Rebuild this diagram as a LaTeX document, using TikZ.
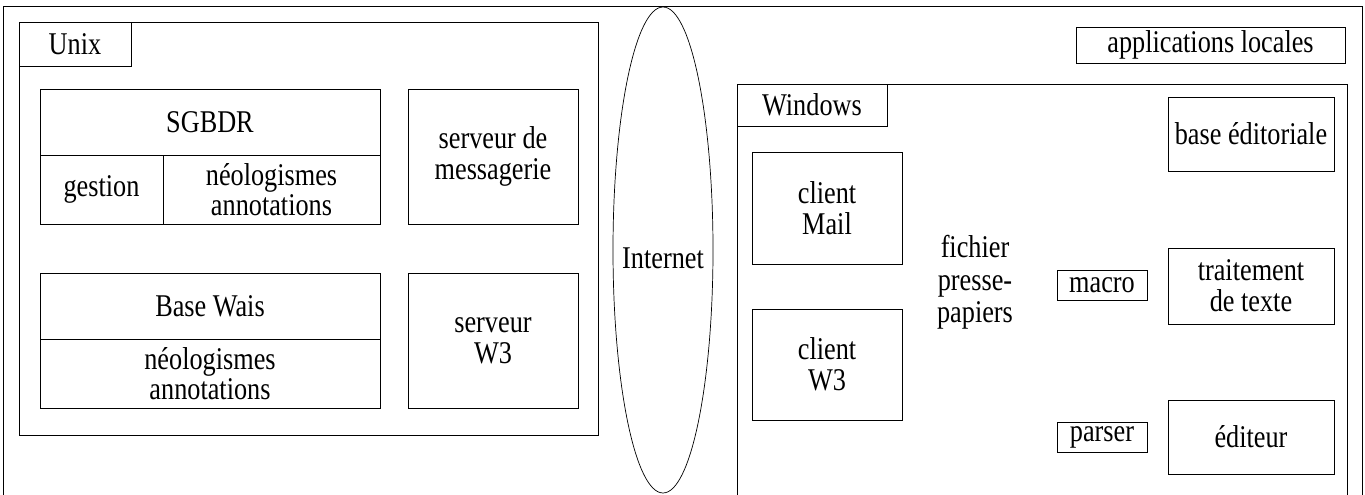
\documentclass[tikz,border=0pt]{standalone}
\usepackage{fontspec}
\setmainfont{Liberation Serif}[FakeStretch=0.83]
\usepackage{tikz}
\usetikzlibrary{shapes,positioning}

\begin{document}
\begin{tikzpicture}
			\tikzstyle{Box}		= [draw, rectangle, inner sep=0pt, align=center, font=\fontsize{18}{17.5}\selectfont]
			\tikzstyle{Tight}	= [font=\fontsize{18}{14.8}\selectfont]
			\tikzstyle{Label}	= [Box, fill=white]
			\tikzstyle{Net}		= [draw, ellipse, inner sep=0pt]
			\tikzstyle{Plain}	= [align=center, font=\fontsize{18}{18.5}\selectfont]

			\useasboundingbox (0,0) rectangle (27.3,9.9);

			\node (frame) at (13.65,4.39) [Box][minimum width=27.18cm, minimum height=10.78cm] {};

			\node (unix) at (6.17,5.33) [Box][minimum width=11.58cm, minimum height=8.26cm] {};
			\node (unixlbl) at (1.5,9.02) [Label][minimum width=2.24cm, minimum height=0.88cm] {Unix};
			\node (sgbdr) at (4.2,7.46) [Box][minimum width=6.8cm, minimum height=1.32cm] {SGBDR};
			\node (gestion) at (2.03,6.11) [Box][minimum width=2.46cm, minimum height=1.38cm] {gestion};
			\node (neo1) at (5.43,6.11) [Box][Tight][minimum width=4.34cm, minimum height=1.38cm] {néologismes\\annotations};
			\node (msg) at (9.86,6.77) [Box][minimum width=3.4cm, minimum height=2.7cm] {serveur de\\messagerie};
			\node (wais) at (4.2,3.78) [Box][minimum width=6.8cm, minimum height=1.32cm] {Base Wais};
			\node (neo2) at (4.2,2.43) [Box][Tight][minimum width=6.8cm, minimum height=1.38cm] {néologismes\\annotations};
			\node (w3srv) at (9.86,3.09) [Box][minimum width=3.4cm, minimum height=2.7cm] {serveur\\W3};

			\node (internet) at (13.26,4.9) [Net][minimum width=2cm, minimum height=9.72cm] {};
			\node (nettxt) at (13.26,4.74) [Plain] {Internet};

			\node (applis) at (24.21,9.0) [Box][minimum width=5.38cm, minimum height=0.72cm] {applications locales};
			\node (windows) at (20.84,3.61) [Box][minimum width=12.2cm, minimum height=9.22cm] {};
			\node (winlbl) at (16.24,7.8) [Label][minimum width=3cm, minimum height=0.84cm] {Windows};
			\node (edito) at (25.02,7.22) [Box][minimum width=3.32cm, minimum height=1.48cm] {base éditoriale};
			\node (mail) at (16.54,5.74) [Box][minimum width=3cm, minimum height=2.24cm] {client\\Mail};
			\node (w3cli) at (16.54,2.61) [Box][minimum width=3cm, minimum height=2.22cm] {client\\W3};
			\node (presse) at (19.5,4.25) [Plain] {fichier\\presse-\\papiers};
			\node (macro) at (22.04,4.2) [Box][minimum width=1.8cm, minimum height=0.6cm] {macro};
			\node (texte) at (25.02,4.18) [Box][minimum width=3.32cm, minimum height=1.52cm] {traitement\\de texte};
			\node (parser) at (22.04,1.16) [Box][minimum width=1.8cm, minimum height=0.6cm] {parser};
			\node (editeur) at (25.02,1.16) [Box][minimum width=3.32cm, minimum height=1.48cm] {éditeur};
\end{tikzpicture}
\end{document}
